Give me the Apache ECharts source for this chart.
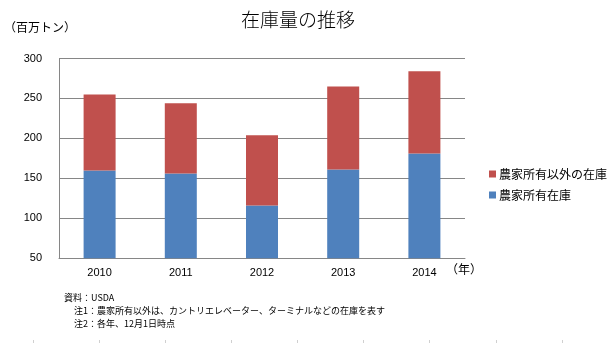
<!DOCTYPE html>
<html><head><meta charset="utf-8">
<script src="https://cdn.jsdelivr.net/npm/echarts@6/dist/echarts.min.js"></script>
<style>html,body{margin:0;padding:0;background:#fff}#c{width:614px;height:343px}</style>
</head><body><div id="c"></div>
<script>
const years = ['2010', '2011', '2012', '2013', '2014'];
const farmStocks = [160, 156, 116, 161, 181];
const offFarmStocks = [95, 88, 88, 104, 103];
const yTicks = [50, 100, 150, 200, 250, 300];
const seriesNames = ['農家所有在庫', '農家所有以外の在庫'];
const titleText = '在庫量の推移';
const unitText = '（百万トン）';
const xUnitText = '（年）';
const notes = ['資料：USDA', '注1：農家所有以外は、カントリエレベーター、ターミナルなどの在庫を表す', '注2：各年、12月1日時点'];

const FONT = '"Noto Sans CJK JP", sans-serif';
const chart = echarts.init(document.getElementById('c'), null, {renderer: 'canvas'});
const bottomTicks = [33, 99, 165, 231, 297, 363, 429, 496, 562];
chart.setOption({
  animation: false,
  textStyle: {fontFamily: FONT},
  title: {text: titleText, left: 236, top: 5, textStyle: {fontFamily: FONT, fontSize: 19, fontWeight: 300, color: '#000'}},
  grid: {left: 59, right: 149, top: 58.5, bottom: 84.7},
  legend: {
    orient: 'vertical', left: 484, top: 163, itemWidth: 7, itemHeight: 7, itemGap: 9, icon: 'rect',
    data: [seriesNames[1], seriesNames[0]],
    textStyle: {fontFamily: FONT, fontSize: 12, color: '#000', padding: [0, 0, 0, -2]}
  },
  xAxis: {
    type: 'category', data: years,
    axisLine: {lineStyle: {color: '#868686', width: 1}},
    axisTick: {show: false},
    axisLabel: {color: '#000', fontSize: 11, margin: 9, fontFamily: 'Liberation Sans, Arial, sans-serif'}
  },
  yAxis: {
    type: 'value', min: yTicks[0], max: yTicks[yTicks.length - 1], interval: 50,
    axisLine: {show: true, lineStyle: {color: '#868686', width: 1}},
    axisTick: {show: false},
    axisLabel: {color: '#000', fontSize: 11, margin: 17, fontFamily: 'Liberation Sans, Arial, sans-serif'},
    splitLine: {lineStyle: {color: '#868686', width: 1}}
  },
  series: [
    {name: seriesNames[0], type: 'bar', stack: 's', data: farmStocks, barWidth: 32, itemStyle: {color: '#4F81BD'}},
    {name: seriesNames[1], type: 'bar', stack: 's', data: offFarmStocks, barWidth: 32, itemStyle: {color: '#C0504D'}}
  ],
  graphic: [
    {type: 'text', left: 4, top: 21, style: {text: unitText, font: '12px ' + FONT, fill: '#000'}},
    {type: 'text', left: 446, top: 263, style: {text: xUnitText, font: '12px ' + FONT, fill: '#000'}},
    {type: 'text', left: 64, top: 293, style: {text: notes[0], font: '9px ' + FONT, fill: '#000'}},
    {type: 'text', left: 74, top: 306, style: {text: notes[1], font: '9px ' + FONT, fill: '#000'}},
    {type: 'text', left: 74, top: 319, style: {text: notes[2], font: '9px ' + FONT, fill: '#000'}}
  ].concat(bottomTicks.map(x => ({type: 'line', shape: {x1: x + 0.5, y1: 340, x2: x + 0.5, y2: 343}, style: {stroke: '#d0d0d0', lineWidth: 1}})))
});
</script></body></html>
